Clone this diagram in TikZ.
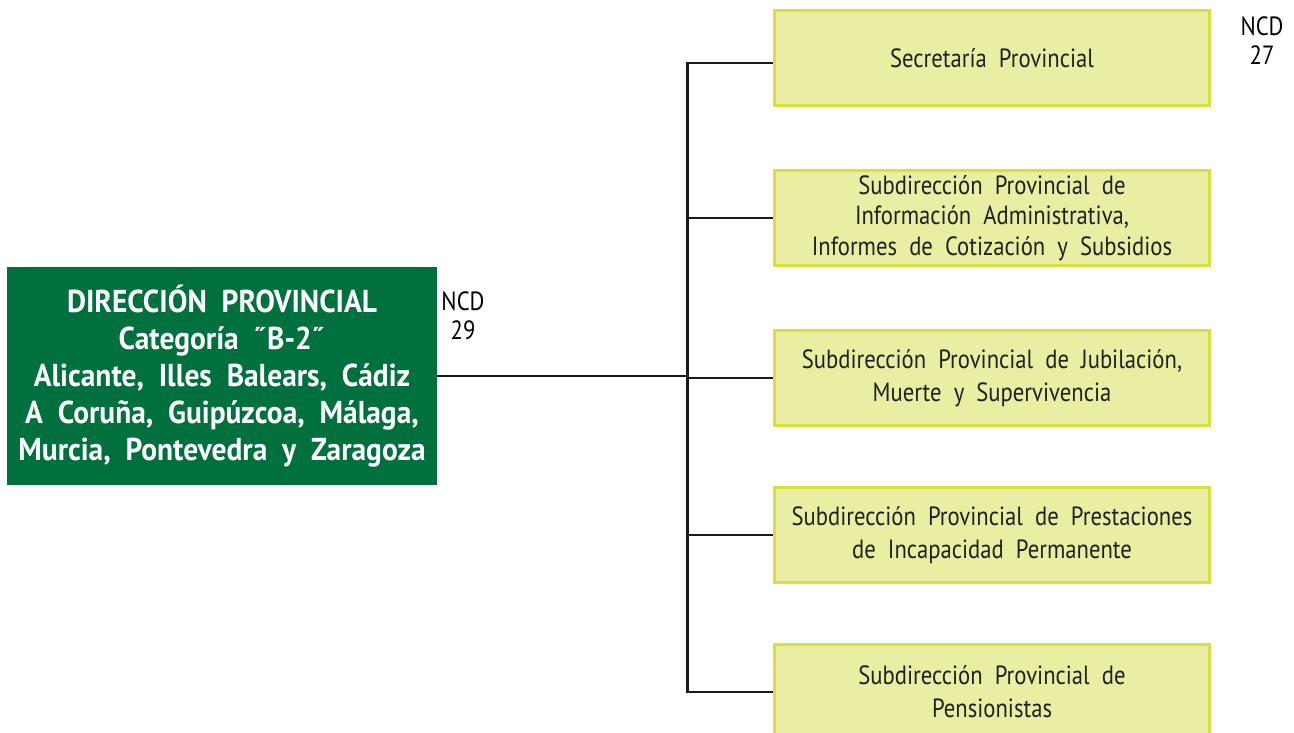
\documentclass[tikz,border=0pt]{standalone}
\usepackage{fontspec}
\setmainfont{PT Sans}[FakeStretch=0.86, WordSpace=2]
\newfontfamily\dirfont{PT Sans}[FakeStretch=0.93, WordSpace=2]
\usepackage{xcolor}
\definecolor{dirgreen}{HTML}{00703F}
\definecolor{subfill}{HTML}{E9EEA2}
\definecolor{subedge}{HTML}{D8E03C}
\definecolor{subtext}{HTML}{231F20}
\usetikzlibrary{positioning}

\begin{document}
\begin{tikzpicture}[x=0.02cm,y=-0.02cm,
  dirbox/.style={fill=dirgreen, text=white, align=center, inner sep=0pt,
    minimum width=8.6cm, minimum height=4.36cm,
    font=\dirfont\fontsize{18}{21}\selectfont\bfseries},
  subbox/.style={fill=subfill, draw=subedge, line width=0.06cm, text=subtext,
    align=center, inner sep=0pt, minimum width=8.72cm, minimum height=1.9cm,
    font=\fontsize{15}{18.6}\selectfont},
  ncd/.style={align=center, inner sep=0pt, font=\fontsize{15}{16.5}\selectfont},
  link/.style={line width=0.045cm, draw=black!90}]

\useasboundingbox (0,0) rectangle (1294,733);

% Direccion
\node[dirbox] (dir) at (222,376) {DIRECCIÓN PROVINCIAL\\Categoría ˝B-2˝\\Alicante, Illes Balears, Cádiz\\A Coruña, Guipúzcoa, Málaga,\\Murcia, Pontevedra y Zaragoza};
\node[ncd] (ncddir) at (463,316) {NCD\\29};

% Subdirecciones
\node[subbox] (sec) at (992,58) {Secretaría Provincial};
\node[subbox, font=\fontsize{15}{17.2}\selectfont] (inf) at (992,218) {Subdirección Provincial de\\Información Administrativa,\\Informes de Cotización y Subsidios};
\node[subbox] (jub) at (992,378) {Subdirección Provincial de Jubilación,\\Muerte y Supervivencia};
\node[subbox] (inc) at (992,535) {Subdirección Provincial de Prestaciones\\de Incapacidad Permanente};
\node[subbox] (pen) at (992,692) {Subdirección Provincial de\\Pensionistas};
\node[ncd] (ncdsec) at (1262,41) {NCD\\27};

% lines
\coordinate (spine) at (687,376);
\draw[link] (dir.east) -- (spine);
\draw[link] ([yshift=-0.1cm]sec.west) -- ++(-85,0) coordinate (top) -- (top |- pen.west) -- (pen.west);
\foreach \s in {inf,jub,inc}
  \draw[link] (\s.west) -- (\s.west -| spine);

\end{tikzpicture}
\end{document}
